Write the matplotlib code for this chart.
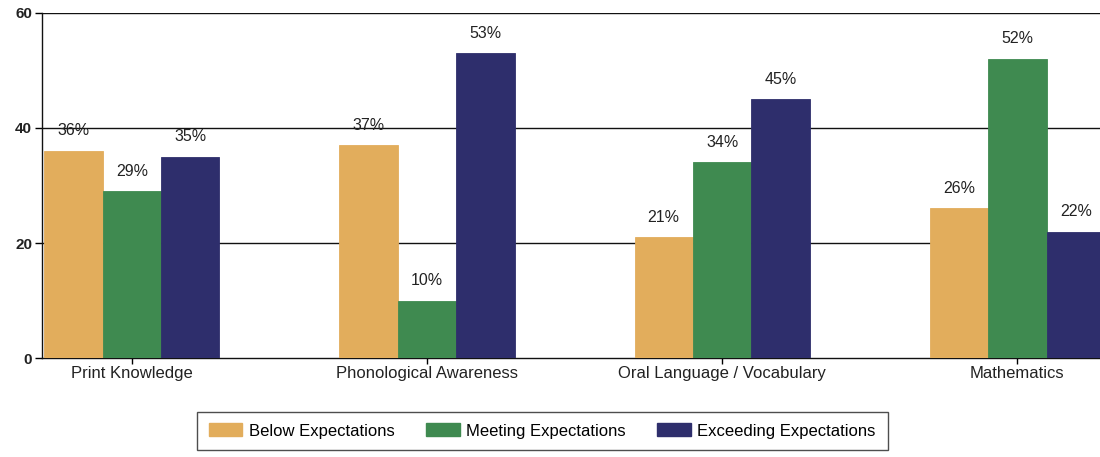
import matplotlib
matplotlib.use("Agg")
import matplotlib.pyplot as plt
import numpy as np
from matplotlib.patches import Patch

categories = ["Print Knowledge", "Phonological Awareness",
              "Oral Language / Vocabulary", "Mathematics"]
series_names = ["Below Expectations", "Meeting Expectations", "Exceeding Expectations"]
below = [36, 37, 21, 26]
meeting = [29, 10, 34, 52]
exceeding = [35, 53, 45, 22]
y_ticks = [0, 20, 40, 60]

colors = ["#E2AD5C", "#3F8A50", "#2E2E6C"]

plt.rcParams["font.family"] = ["Liberation Sans", "DejaVu Sans"]

fig = plt.figure(figsize=(11, 4.57), dpi=100)
ax = fig.add_axes([0.038, 0.2166, 0.962, 0.755])

x = np.arange(len(categories))
width = 0.198
for i, (vals, col) in enumerate(zip([below, meeting, exceeding], colors)):
    pos = x + (i - 1) * width
    ax.bar(pos, vals, width=width, color=col, edgecolor=col, linewidth=0.6, zorder=3)
    for px, v in zip(pos, vals):
        ax.text(px, v + 2.2, f"{v}%", ha="center", va="bottom", fontsize=11.5, color="#222222", zorder=4)

ax.set_xlim(-0.305, 3.28)
ax.set_ylim(0, 60)
ax.set_yticks(y_ticks)
ax.set_yticklabels([str(t) for t in y_ticks], fontsize=11, fontweight="bold", color="#222222")
ax.set_xticks(x)
ax.set_xticklabels(categories, fontsize=12, color="#222222")

for t in y_ticks[1:]:
    ax.axhline(t, color="#111111", linewidth=1.0, zorder=1)

for side in ["top", "right"]:
    ax.spines[side].set_visible(False)
ax.spines["left"].set_color("#111111")
ax.spines["bottom"].set_color("#111111")
ax.spines["left"].set_linewidth(1.0)
ax.spines["bottom"].set_linewidth(1.0)
ax.tick_params(axis="y", length=5, width=1, direction="out", pad=2)
ax.tick_params(axis="x", length=4, width=1, direction="out", pad=2)

handles = [Patch(facecolor=c, edgecolor=c) for c in colors]
leg = fig.legend(handles, series_names, loc="center", bbox_to_anchor=(0.493, 0.057),
                 ncol=3, frameon=True, fancybox=False, fontsize=12,
                 handlelength=2.0, handleheight=0.8, columnspacing=1.9,
                 handletextpad=0.4, borderpad=0.7, borderaxespad=0)
leg.get_frame().set_edgecolor("#222222")
leg.get_frame().set_linewidth(1.0)

fig.savefig("out.png", dpi=100)
